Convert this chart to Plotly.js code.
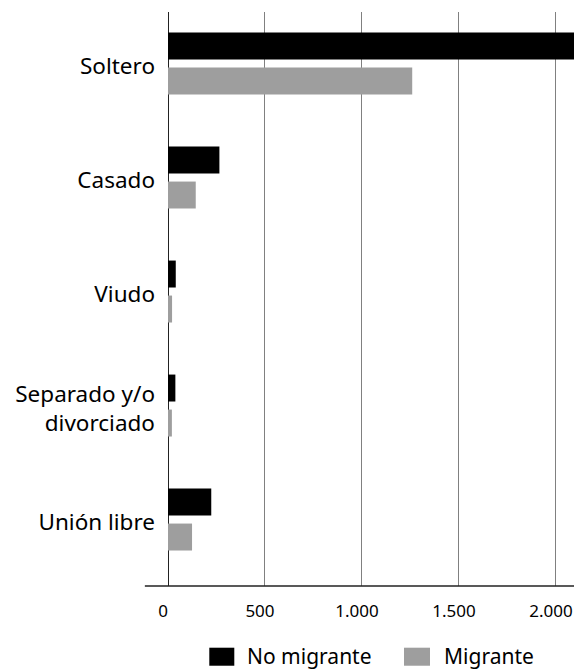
<!DOCTYPE html>
<html>
<head>
<meta charset="utf-8">
<script src="https://cdn.plot.ly/plotly-3.0.1.min.js"></script>
<style>html,body{margin:0;padding:0;background:#fff;}#chart{width:574px;height:669px;}</style>
</head>
<body>
<div id="chart"></div>
<script>
const categories = ["Soltero", "Casado", "Viudo", "Separado y/o<br>divorciado", "Unión libre"];
const seriesNames = ["No migrante", "Migrante"];
const seriesColors = ["#000000", "#9e9e9e"];
const noMigrante = [2150, 265, 40, 38, 223];
const migrante = [1259, 143, 21, 20, 124];
const xTicks = [0, 500, 1000, 1500, 2000];

const FONT = "Noto Sans, Open Sans, sans-serif";

const traces = [
  {type: "bar", orientation: "h", name: seriesNames[0], y: categories, x: noMigrante,
   marker: {color: seriesColors[0]}, hoverinfo: "skip", showlegend: false},
  {type: "bar", orientation: "h", name: seriesNames[1], y: categories, x: migrante,
   marker: {color: seriesColors[1]}, hoverinfo: "skip", showlegend: false}
];

// legend drawn as swatches + labels below the plot
const legendSwatches = [[0.1017, 0.1633], [0.5813, 0.6453]];
const legendLabelX = [0.1921, 0.6773];

const shapes = [
  {type: "line", xref: "paper", yref: "paper", x0: -0.057, x1: 1, y0: 0, y1: 0,
   line: {color: "#222", width: 1.5}}
];
const annotations = [];
seriesNames.forEach((n, i) => {
  shapes.push({type: "rect", xref: "paper", yref: "paper",
    x0: legendSwatches[i][0], x1: legendSwatches[i][1], y0: -0.1389, y1: -0.1075,
    fillcolor: seriesColors[i], line: {width: 0}});
  annotations.push({xref: "paper", yref: "paper", x: legendLabelX[i], y: -0.122,
    xanchor: "left", yanchor: "middle", showarrow: false, text: n,
    font: {size: 21, family: FONT, color: "#000"}, borderpad: 0});
});

const layout = {
  width: 574, height: 669,
  margin: {l: 168, r: 0, t: 12, b: 83, pad: 0},
  paper_bgcolor: "#fff", plot_bgcolor: "#fff",
  font: {family: FONT, color: "#000", size: 17},
  separators: ",.",
  barmode: "group",
  bargap: 0.386,
  bargroupgap: 0.23,
  xaxis: {
    range: [0, 2093],
    tickvals: xTicks,
    tickformat: ",d",
    showgrid: true, gridcolor: "#808080", gridwidth: 1,
    zeroline: true, zerolinecolor: "#222", zerolinewidth: 1,
    showline: false, ticks: "",
    tickfont: {size: 17, family: FONT, color: "#000"},
    ticklabelstandoff: 13,
    ticklabelshift: -5,
    ticklabeloverflow: "allow",
    fixedrange: true
  },
  yaxis: {
    type: "category",
    categoryorder: "array", categoryarray: categories,
    range: [4.583, -0.452],
    showgrid: false, zeroline: false, showline: false, ticks: "",
    tickfont: {size: 22.5, family: FONT, color: "#000"},
    ticklabelstandoff: 12,
    ticklabelshift: -3,
    fixedrange: true
  },
  showlegend: false,
  shapes: shapes,
  annotations: annotations
};

Plotly.newPlot("chart", traces, layout, {displayModeBar: false, staticPlot: true});
</script>
</body>
</html>
